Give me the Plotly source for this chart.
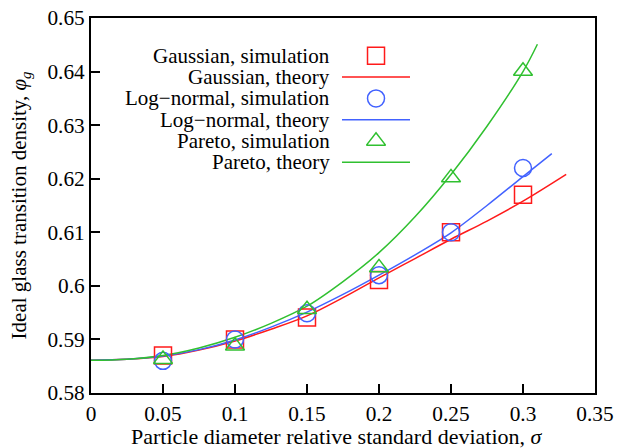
import plotly.graph_objects as go

# ---------------- data ----------------
sigma_sim = [0.05, 0.10, 0.15, 0.20, 0.25, 0.30]
gauss_sim = [0.5870, 0.5900, 0.5941, 0.6011, 0.6100, 0.6170]
lognorm_sim = [0.5860, 0.5900, 0.5949, 0.6020, 0.6100, 0.6220]
pareto_sim = [0.5863, 0.5888, 0.5956, 0.6034, 0.6202, 0.6401]

sigma_gauss_th = [0, 0.025, 0.05, 0.075, 0.1, 0.125, 0.15, 0.175, 0.2, 0.225, 0.25, 0.275, 0.3, 0.33]
gauss_th = [0.5861, 0.5863, 0.5868, 0.5880, 0.5897, 0.5919, 0.5944, 0.5978, 0.6015, 0.6051, 0.6087, 0.6121, 0.6158, 0.6208]
sigma_lognorm_th = [0, 0.025, 0.05, 0.075, 0.1, 0.125, 0.15, 0.175, 0.2, 0.225, 0.25, 0.275, 0.3, 0.32]
lognorm_th = [0.5861, 0.5863, 0.5869, 0.5881, 0.5899, 0.5923, 0.5951, 0.5984, 0.6020, 0.6058, 0.6099, 0.6150, 0.6204, 0.6247]
sigma_pareto_th = [0, 0.025, 0.05, 0.075, 0.1, 0.125, 0.15, 0.175, 0.2, 0.225, 0.25, 0.275, 0.3, 0.31]
pareto_th = [0.5861, 0.5863, 0.5870, 0.5884, 0.5904, 0.5930, 0.5962, 0.6008, 0.6062, 0.6129, 0.6208, 0.6298, 0.6400, 0.6451]

x_tickvals = [0, 0.05, 0.1, 0.15, 0.2, 0.25, 0.3, 0.35]
x_ticktext = ["0", "0.05", "0.1", "0.15", "0.2", "0.25", "0.3", "0.35"]
y_tickvals = [0.58, 0.59, 0.60, 0.61, 0.62, 0.63, 0.64, 0.65]
y_ticktext = ["0.58", "0.59", "0.6", "0.61", "0.62", "0.63", "0.64", "0.65"]

x_title = "Particle diameter relative standard deviation, <i>\u03c3</i>"
y_title = "Ideal glass transition density, <i>\u03c6<sub>g</sub></i>"

legend_labels = ["Gaussian, simulation", "Gaussian, theory",
                 "Log\u2212normal, simulation", "Log\u2212normal, theory",
                 "Pareto, simulation", "Pareto, theory"]

RED = "#ff1a1a"
BLUE = "#4262ff"
GREEN = "#30c030"
FONT = "Liberation Serif"

series = [
    ("sim", sigma_sim, gauss_sim, RED, "square-open"),
    ("th", sigma_gauss_th, gauss_th, RED, None),
    ("sim", sigma_sim, lognorm_sim, BLUE, "circle-open"),
    ("th", sigma_lognorm_th, lognorm_th, BLUE, None),
    ("sim", sigma_sim, pareto_sim, GREEN, "triangle-up-open"),
    ("th", sigma_pareto_th, pareto_th, GREEN, None),
]


def msize(sym):
    return 16.5 if sym == "triangle-up-open" else 17


fig = go.Figure()

# theory curves first, then markers
for kind, xs, ys, col, sym in series:
    if kind == "th":
        fig.add_trace(go.Scatter(x=xs, y=ys, mode="lines", line=dict(color=col, width=1.5, shape="spline"),
                                 showlegend=False, hoverinfo="skip"))
for kind, xs, ys, col, sym in series:
    if kind == "sim":
        fig.add_trace(go.Scatter(x=xs, y=ys, mode="markers",
                                 marker=dict(symbol=sym, size=msize(sym),
                                             color=col, line=dict(color=col, width=1.5)),
                                 showlegend=False))

# custom gnuplot-style key on an overlay axis (rows = series index)
for i, (kind, xs, ys, col, sym) in enumerate(series):
    if kind == "th":
        fig.add_trace(go.Scatter(x=[0, 1], y=[i, i], xaxis="x2", yaxis="y2", mode="lines",
                                 line=dict(color=col, width=1.5), showlegend=False, hoverinfo="skip"))
    else:
        fig.add_trace(go.Scatter(x=[0.5], y=[i], xaxis="x2", yaxis="y2", mode="markers",
                                 marker=dict(symbol=sym, size=msize(sym),
                                             color=col, line=dict(color=col, width=1.5)),
                                 showlegend=False, hoverinfo="skip"))
    fig.add_annotation(x=0.477, xref="paper", y=i, yref="y2", text=legend_labels[i],
                       xanchor="right", yanchor="middle", showarrow=False, borderpad=0,
                       font=dict(family=FONT, size=21, color="black"))

# x-axis title as an annotation (precise placement under the tick labels)
fig.add_annotation(x=0.489, xref="paper", y=-0.078, yref="paper", text=x_title,
                   xanchor="center", yanchor="top", showarrow=False,
                   font=dict(family=FONT, size=22, color="black"))

axis_common = dict(showline=True, linecolor="black", linewidth=2, mirror=True,
                   ticks="inside", ticklen=9, tickwidth=1.5, tickcolor="black",
                   showgrid=False, zeroline=False, automargin=False,
                   tickfont=dict(family=FONT, size=21.3, color="black"))

fig.update_layout(
    width=619, height=448,
    margin=dict(l=91, r=24, t=18, b=55),
    paper_bgcolor="white", plot_bgcolor="white",
    xaxis=dict(range=[0, 0.35], tickvals=x_tickvals, ticktext=x_ticktext, ticklabelstandoff=0,
               **axis_common),
    yaxis=dict(range=[0.58, 0.65], tickvals=y_tickvals, ticktext=y_ticktext,
               title=dict(text=y_title, font=dict(family=FONT, size=21, color="black"), standoff=15),
               **axis_common),
    xaxis2=dict(domain=[0.498, 0.633], range=[0, 1], visible=False, anchor="y2"),
    yaxis2=dict(domain=[0.5868, 0.9276], range=[5.5, -0.5], visible=False, anchor="x2"),
    showlegend=False,
)

fig.write_html("out.html")
